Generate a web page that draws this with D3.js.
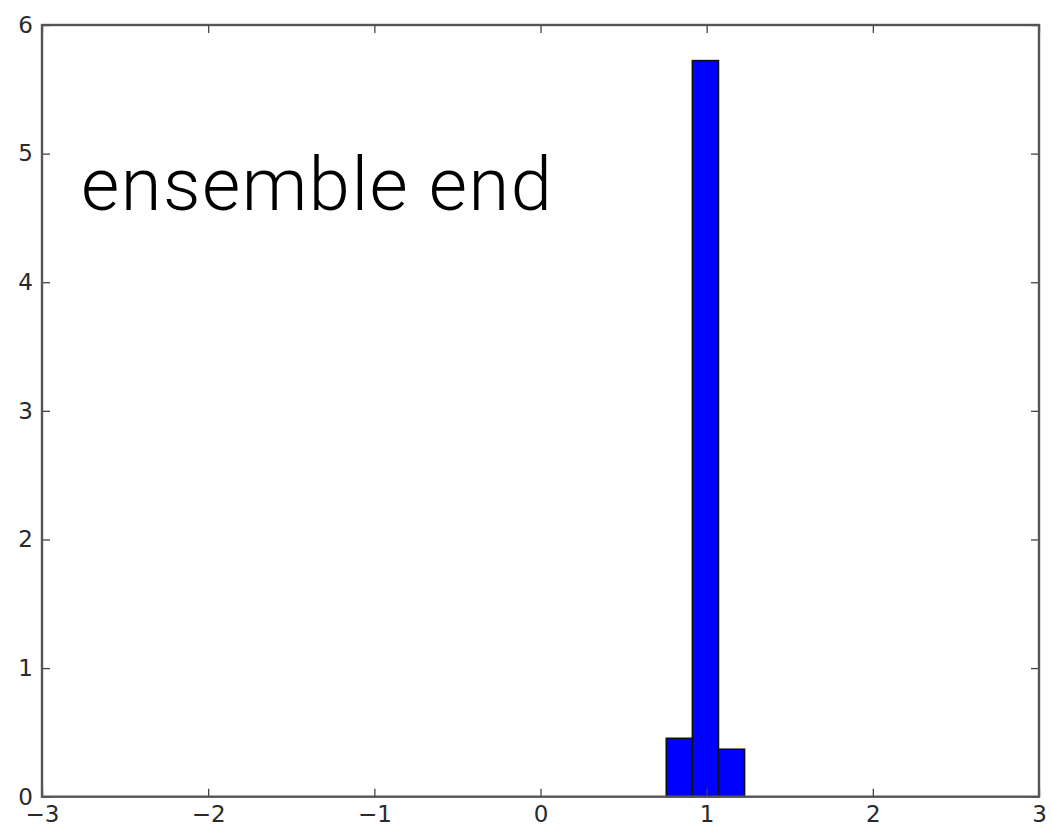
<!DOCTYPE html>
<html>
<head>
<meta charset="utf-8">
<script src="https://cdn.jsdelivr.net/npm/d3@7"></script>
<style>
  html, body { margin: 0; padding: 0; background: #fff; }
  svg { display: block; }
</style>
</head>
<body>
<svg id="chart" width="1052" height="833"></svg>
<script>
// Histogram bin edges and bin heights (density)
const binEdges = [0.757, 0.914, 1.071, 1.228];
const binHeights = [0.454, 5.723, 0.369];
const xTicks = [-3, -2, -1, 0, 1, 2, 3];
const yTicks = [0, 1, 2, 3, 4, 5, 6];
const titleText = "ensemble end";

const svg = d3.select("#chart");
const plot = { left: 42, right: 1039, top: 25, bottom: 796.7 };

const x = d3.scaleLinear().domain([-3, 3]).range([plot.left, plot.right]);
const y = d3.scaleLinear().domain([0, 6]).range([plot.bottom, plot.top]);

const bins = binHeights.map((h, i) => ({ x0: binEdges[i], x1: binEdges[i + 1], h }));

// bars
svg.append("g").selectAll("rect").data(bins).join("rect")
  .attr("x", d => x(d.x0))
  .attr("y", d => y(d.h))
  .attr("width", d => x(d.x1) - x(d.x0))
  .attr("height", d => y(0) - y(d.h))
  .attr("fill", "#0000ff")
  .attr("stroke", "#111")
  .attr("stroke-width", 1.6);

const tickStyle = g => {
  g.select(".domain").remove();
  g.selectAll(".tick line").attr("stroke", "#444").attr("stroke-width", 1.3);
  g.selectAll(".tick text").attr("fill", "#2a2a2a")
    .style("font-family", "DejaVu Sans").style("font-size", "23px");
};

const minusFormat = d => d < 0 ? "\u2212" + Math.abs(d) : String(d);

// bottom axis (ticks point inward)
svg.append("g").attr("transform", `translate(0,${plot.bottom})`)
  .call(d3.axisBottom(x).tickValues(xTicks).tickSizeInner(-8).tickPadding(9)
    .tickFormat(minusFormat))
  .call(tickStyle);

// top axis ticks
svg.append("g").attr("transform", `translate(0,${plot.top})`)
  .call(d3.axisTop(x).tickValues(xTicks).tickSizeInner(-8).tickFormat(""))
  .call(tickStyle);

// left axis
svg.append("g").attr("transform", `translate(${plot.left},0)`)
  .call(d3.axisLeft(y).tickValues(yTicks).tickSizeInner(-8).tickPadding(9)
    .tickFormat(minusFormat))
  .call(tickStyle);

// right axis ticks
svg.append("g").attr("transform", `translate(${plot.right},0)`)
  .call(d3.axisRight(y).tickValues(yTicks).tickSizeInner(-8).tickFormat(""))
  .call(tickStyle);

// frame
svg.append("rect")
  .attr("x", plot.left).attr("y", plot.top)
  .attr("width", plot.right - plot.left).attr("height", plot.bottom - plot.top)
  .attr("fill", "none").attr("stroke", "#555").attr("stroke-width", 2.4);

// annotation
svg.append("text")
  .attr("x", 81).attr("y", 210)
  .style("font-family", "Roboto").style("font-weight", 300)
  .style("font-size", "74px").style("letter-spacing", "1.5px").attr("fill", "#000")
  .text(titleText);
</script>
</body>
</html>
